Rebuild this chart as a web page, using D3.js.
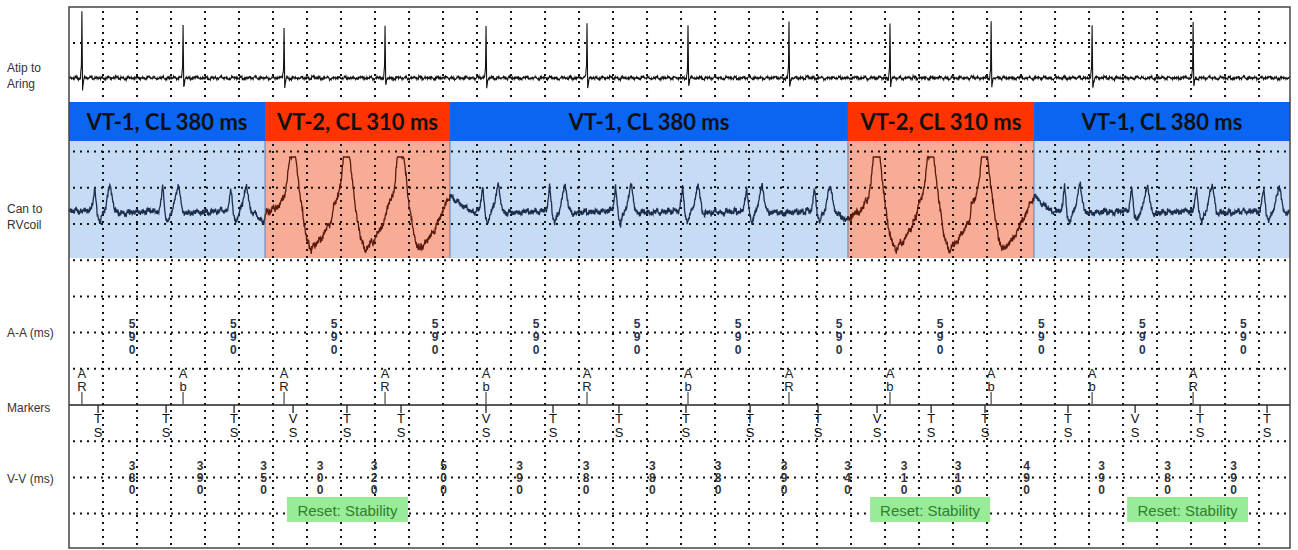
<!DOCTYPE html>
<html><head><meta charset="utf-8">
<script src="https://cdn.jsdelivr.net/npm/d3@7"></script>
<style>body{margin:0;background:#fff} svg{display:block}</style>
</head><body>
<svg id="chart" width="1298" height="550"></svg>
<script>
// ---------------- data ----------------
const timeExtentMs = [0, 7182];
const gridStepMs = 200;

const rhythmLabels = ["VT-1, CL 380 ms","VT-2, CL 310 ms","VT-1, CL 380 ms","VT-2, CL 310 ms","VT-1, CL 380 ms"];
const rhythmTypes  = ["VT-1","VT-2","VT-1","VT-2","VT-1"];
const rhythmStartMs = [0, 1153, 2241, 4582, 5676];
const rhythmEndMs   = [1153, 2241, 4582, 5676, 7182];

const channelLabels = [["Atip to","Aring"],["Can to","RVcoil"],["A-A (ms)"],["Markers"],["V-V (ms)"]];

const aMarkerMs    = [76, 671, 1265, 1859, 2453, 3047, 3641, 4235, 4829, 5424, 6018, 6612];
const aMarkerCodes = ["AR","Ab","AR","AR","Ab","AR","Ab","AR","Ab","Ab","Ab","AR"];
const aaIntervalsMs = [590,590,590,590,590,590,590,590,590,590,590,590];

const vMarkerMs    = [171,571,971,1318,1635,1953,2453,2847,3235,3629,4006,4406,4753,5071,5388,5876,6271,6653,7047];
const vMarkerCodes = ["TS","TS","TS","VS","TS","TS","VS","TS","TS","TS","TS","TS","VS","TS","TS","TS","VS","TS","TS"];
const vvIntervalsMs = [380,390,350,300,320,500,390,380,380,380,390,340,310,310,490,390,380,390];

const resetLabel = "Reset: Stability";
const resetStartMs = [1282, 4712, 6224];
const resetEndMs   = [1994, 5418, 6935];

// EGM waveforms (arbitrary amplitude units, [ms offset, value])
const atrialSpikeAmp = [1.02,0.83,0.78,0.8,0.83,0.86,0.8,0.86,0.83,0.86,0.83,0.86];
const atrialSpikeShape = [[-9,0],[-3,0.2],[0,1],[4,-0.17],[9,-0.06],[15,0]];
const vt1Beat = [[-40,0.02],[-30,0.2],[-20,0.45],[-12,0.2],[-4,-0.05],[10,-0.2],[25,-0.05],[45,0.1],[60,0.35],[72,0.5],[84,0.25],[96,0.03],[110,-0.02]];
const vt2Beat = [[-80,0.1],[-50,0.3],[-35,0.55],[-20,1.05],[14,1.05],[45,0.2],[80,-0.5],[110,-0.7],[125,-0.62],[160,-0.5],[200,-0.3],[230,-0.1]];
const canAnchors = [[0,0.02],[1100,-0.05],[1145,-0.2],[1160,0.0],[2241,0.3],[2300,0.15],[2370,0.0],
                    [4300,0],[4570,-0.15],[4590,-0.1],[4650,0.0],[5676,0.3],[5740,0.1],[5800,0],[7182,0]];
const egmNoise = [0.3,-0.5,0.8,-0.2,0.1,-0.9,0.6,0.2,-0.4,0.7,-0.7,0.0,0.5,-0.3,0.9,-0.6,0.2,-0.1,0.4,-0.8,
                  0.6,-0.2,0.1,0.8,-0.5,0.3,-0.9,0.5,0.0,-0.4,0.7,-0.3,0.2,-0.7,0.9,-0.1,0.4,-0.6,0.1,0.6,
                  -0.8,0.3,-0.2,0.5,-0.5,0.8,-0.3,0.0,0.2,-0.6,0.4,0.7,-0.4,-0.1,0.6,-0.9,0.3];

// ---------------- layout ----------------
const svg = d3.select("#chart");
const L = 69, R = 1290, T = 7, B = 548;
const bannerY0 = 102, bannerY1 = 141, shadeY1 = 258, markerY = 405;
const x = d3.scaleLinear().domain(timeExtentMs).range([L, R]);
const yAtrial = d3.scaleLinear().domain([0, 1]).range([78, 13]);
const yCan = d3.scaleLinear().domain([0, 1]).range([212, 157]);
const colors = {
  "VT-1": {banner: "#0a66f2", shade: "#c6dbf4", trace: "#1d2d4d"},
  "VT-2": {banner: "#ff3300", shade: "#f8ab95", trace: "#5a1a0e"}
};
const segs = rhythmLabels.map((label, i) => ({label, type: rhythmTypes[i], start: rhythmStartMs[i], end: rhythmEndMs[i]}));
const segOf = t => segs.find(s => t >= s.start && t < s.end) || segs[segs.length - 1];

svg.append("rect").attr("width", 1298).attr("height", 550).attr("fill", "#fff");

// shaded areas
svg.append("g").selectAll("rect").data(segs).join("rect")
  .attr("x", d => x(d.start)).attr("y", bannerY1)
  .attr("width", d => x(d.end) - x(d.start)).attr("height", shadeY1 - bannerY1)
  .attr("fill", d => colors[d.type].shade);

// dotted grid
const gridT = d3.range(gridStepMs, timeExtentMs[1], gridStepMs);
const rowYs = d3.range(0, 14).filter(k => k !== 1 && k !== 10).map(k => 43 + 36.2 * k);
const grid = svg.append("g").attr("stroke", "#111").attr("stroke-width", 2).attr("stroke-dasharray", "2,5");
grid.selectAll("line.v").data(gridT).join("line").attr("class", "v")
  .attr("x1", d => x(d)).attr("x2", d => x(d)).attr("y1", T + 4).attr("y2", B);
grid.selectAll("line.h").data(rowYs).join("line").attr("class", "h")
  .attr("x1", L + 4).attr("x2", R).attr("y1", d => d).attr("y2", d => d);

// separators between rhythm zones
svg.append("g").selectAll("line").data(segs.slice(1)).join("line")
  .attr("x1", d => x(d.start)).attr("x2", d => x(d.start)).attr("y1", bannerY1).attr("y2", shadeY1)
  .attr("stroke", "#5a80b8").attr("stroke-width", 1);

// banner
const ban = svg.append("g").selectAll("g").data(segs).join("g");
ban.append("rect").attr("x", d => x(d.start)).attr("y", bannerY0)
  .attr("width", d => x(d.end) - x(d.start)).attr("height", bannerY1 - bannerY0)
  .attr("fill", d => colors[d.type].banner);
ban.append("text").attr("x", d => (x(d.start) + x(d.end)) / 2).attr("y", 130)
  .attr("text-anchor", "middle").attr("font-family", "Lato, 'Open Sans', sans-serif")
  .attr("font-weight", "bold").attr("font-size", 22).attr("fill", "#111").text(d => d.label);

// ---------------- traces ----------------
function interp(keys, t) {
  const i = d3.bisector(d => d[0]).right(keys, t);
  if (i <= 0) return keys[0][1];
  if (i >= keys.length) return keys[keys.length - 1][1];
  const a = keys[i - 1], b = keys[i];
  return a[1] + (b[1] - a[1]) * (t - a[0]) / (b[0] - a[0]);
}
const noiseAt = (t, fast, slow) =>
  egmNoise[Math.floor(t / 3) % egmNoise.length] * fast + egmNoise[Math.floor(t / 17 + 7) % egmNoise.length] * slow;

// atrial
const atrialKeys = [[0, 0], [timeExtentMs[1], 0]];
aMarkerMs.forEach((m, i) => atrialSpikeShape.forEach(([dt, v]) => atrialKeys.push([m + dt, v * atrialSpikeAmp[i]])));
atrialKeys.sort((a, b) => a[0] - b[0]);
const atrialTimes = Array.from(new Set(d3.range(0, timeExtentMs[1], 3).concat(atrialKeys.map(d => d[0])))).sort((a, b) => a - b);
const atrialPts = atrialTimes.map(t => [t, interp(atrialKeys, t) + noiseAt(t, 0.02, 0.022)]);
const lineA = d3.line().x(d => x(d[0])).y(d => yAtrial(d[1]));
svg.append("path").attr("d", lineA(atrialPts)).attr("fill", "none").attr("stroke", "#111").attr("stroke-width", 1.1);

// can to RV coil
const canKeys = canAnchors.slice();
vMarkerMs.forEach(m => {
  const tpl = segOf(m).type === "VT-2" ? vt2Beat : vt1Beat;
  tpl.forEach(([dt, v]) => canKeys.push([m + dt, v]));
});
canKeys.sort((a, b) => a[0] - b[0]);
const canTimes = Array.from(new Set(d3.range(0, timeExtentMs[1], 3).concat(canKeys.map(d => d[0])))).sort((a, b) => a - b);
const canPts = canTimes.map(t => {
  const s = segOf(t);
  const n = s.type === "VT-2" ? noiseAt(t, 0.06, 0.05) : noiseAt(t, 0.05, 0.04);
  return [t, Math.min(1.0, interp(canKeys, t) + n)];
});
const lineC = d3.line().x(d => x(d[0])).y(d => yCan(d[1]));
segs.forEach(s => {
  const pts = canPts.filter(d => d[0] >= s.start - 3 && d[0] <= s.end);
  svg.append("path").attr("d", lineC(pts)).attr("fill", "none")
    .attr("stroke", colors[s.type].trace).attr("stroke-width", 1.3);
});

// ---------------- markers ----------------
svg.append("line").attr("x1", L).attr("x2", R).attr("y1", markerY).attr("y2", markerY)
  .attr("stroke", "#222").attr("stroke-width", 1.6);
const font = "'Liberation Sans', Arial, sans-serif";
const aM = svg.append("g").selectAll("g").data(aMarkerMs.map((t, i) => ({t, c: aMarkerCodes[i]}))).join("g");
aM.append("line").attr("x1", d => x(d.t)).attr("x2", d => x(d.t)).attr("y1", 392).attr("y2", markerY)
  .attr("stroke", "#555").attr("stroke-width", 1.3);
aM.append("text").attr("x", d => x(d.t)).attr("y", 378).attr("text-anchor", "middle")
  .attr("font-family", font).attr("font-size", 13).attr("fill", "#222").text(d => d.c[0]);
aM.append("text").attr("x", d => x(d.t)).attr("y", 391).attr("text-anchor", "middle")
  .attr("font-family", font).attr("font-size", 13).attr("fill", "#222").text(d => d.c[1]);

const vM = svg.append("g").selectAll("g").data(vMarkerMs.map((t, i) => ({t, c: vMarkerCodes[i]}))).join("g");
vM.append("line").attr("x1", d => x(d.t)).attr("x2", d => x(d.t)).attr("y1", markerY).attr("y2", 413)
  .attr("stroke", "#222").attr("stroke-width", 1.3);
vM.append("text").attr("x", d => x(d.t)).attr("y", 423).attr("text-anchor", "middle")
  .attr("font-family", font).attr("font-size", 13).attr("fill", "#111").text(d => d.c[0]);
vM.append("text").attr("x", d => x(d.t)).attr("y", 437).attr("text-anchor", "middle")
  .attr("font-family", font).attr("font-size", 13).attr("fill", "#111").text(d => d.c[1]);

// interval labels (stacked digits)
function stacked(data, baselines, fill) {
  const g = svg.append("g").selectAll("g").data(data).join("g");
  baselines.forEach((by, k) => {
    g.append("text").attr("x", d => d.xm).attr("y", by).attr("text-anchor", "middle")
      .attr("font-family", font).attr("font-weight", "bold").attr("font-size", 12)
      .attr("fill", fill).text(d => d.s[k] || "");
  });
}
// A-A: label centred half an interval after the marker that opens the interval
stacked(aaIntervalsMs.map((v, i) => ({xm: x(aMarkerMs[i] + v / 2), s: String(v)})), [328, 341, 354], "#26324e");
// V-V: label centred between the two markers that bound the interval
stacked(vvIntervalsMs.map((v, i) => ({xm: (x(vMarkerMs[i]) + x(vMarkerMs[i + 1])) / 2, s: String(v)})), [470, 482, 494], "#333");

// reset boxes
const rs = svg.append("g").selectAll("g").data(resetStartMs.map((s, i) => ({s, e: resetEndMs[i]}))).join("g");
rs.append("rect").attr("x", d => x(d.s)).attr("y", 497).attr("width", d => x(d.e) - x(d.s)).attr("height", 25)
  .attr("fill", "#98ec98");
rs.append("text").attr("x", d => (x(d.s) + x(d.e)) / 2).attr("y", 516).attr("text-anchor", "middle")
  .attr("font-family", font).attr("font-size", 15).attr("fill", "#2f7f2f").text(resetLabel);

// channel labels
const labelY = [[72, 88], [213, 229], [337], [412], [483]];
channelLabels.forEach((lines, i) => lines.forEach((t, k) => {
  svg.append("text").attr("x", 7).attr("y", labelY[i][k]).attr("font-family", font)
    .attr("font-size", 12).attr("fill", "#333").text(t);
}));

// frame
svg.append("rect").attr("x", L).attr("y", T).attr("width", R - L).attr("height", B - T)
  .attr("fill", "none").attr("stroke", "#444").attr("stroke-width", 1.5);
</script>
</body></html>
